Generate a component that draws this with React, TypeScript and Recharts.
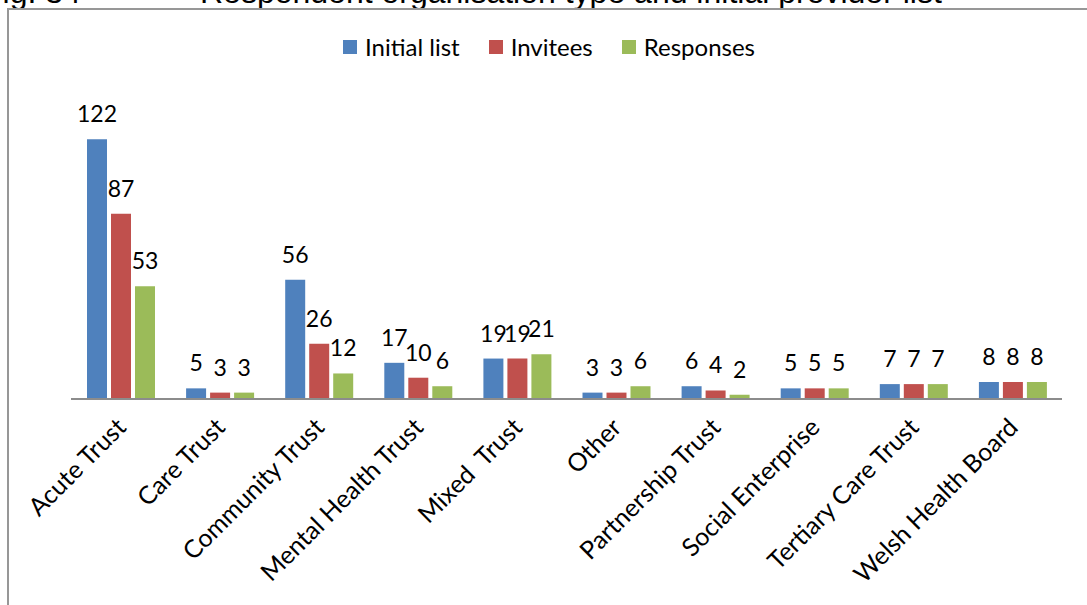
import React from 'react';
import { BarChart, Bar, XAxis, YAxis, LabelList } from 'recharts';

const categories = [
  'Acute Trust',
  'Care Trust',
  'Community Trust',
  'Mental Health Trust',
  'Mixed  Trust',
  'Other',
  'Partnership Trust',
  'Social Enterprise',
  'Tertiary Care Trust',
  'Welsh Health Board',
];
const initialList = [122, 5, 56, 17, 19, 3, 6, 5, 7, 8];
const invitees = [87, 3, 26, 10, 19, 3, 4, 5, 7, 8];
const responses = [53, 3, 12, 6, 21, 6, 2, 5, 7, 8];

const seriesKeys = ['initial', 'invitees', 'responses'];
const seriesNames = ['Initial list', 'Invitees', 'Responses'];
const seriesColors = ['#4F81BD', '#C0504D', '#9BBB59'];

const yDomainMax = 140;
const figureNumber = 'Fig. 34';
const figureTitle = 'Respondent organisation type and initial provider list';

const data = categories.map((name, i) => ({
  name,
  initial: initialList[i],
  invitees: invitees[i],
  responses: responses[i],
}));

const FONT = 'Lato, "Open Sans", sans-serif';

// Category names run diagonally, right-aligned just below the axis.
const CategoryTick = (props: any) => {
  const { x, y, payload } = props;
  const ax = x + 7;
  const ay = y + 30;
  return (
    <text
      x={ax}
      y={ay}
      transform={`rotate(-45 ${ax} ${ay})`}
      textAnchor="end"
      fontFamily={FONT}
      fontSize={25}
      fill="#000"
      style={{ whiteSpace: 'pre' }}
    >
      {payload.value}
    </text>
  );
};

const ValueLabel = (props: any) => {
  const { x, y, width, value } = props;
  return (
    <text
      x={x + width / 2}
      y={y - 17}
      textAnchor="middle"
      fontFamily={FONT}
      fontSize={23}
      fill="#000"
    >
      {value}
    </text>
  );
};

export default function App() {
  return (
    <div
      style={{
        position: 'absolute',
        left: 0,
        top: 0,
        width: 1087,
        height: 605,
        overflow: 'hidden',
        background: '#fff',
      }}
    >
      <svg
        width={1087}
        height={20}
        style={{ position: 'absolute', left: 0, top: 0 }}
      >
        <text x={-17} y={3} fontFamily='"Liberation Sans", Arial, sans-serif' fontSize={32} fill="#000">
          {figureNumber}
        </text>
        <text x={200} y={3} fontFamily='"Liberation Sans", Arial, sans-serif' fontSize={32} fill="#000">
          {figureTitle}
        </text>
      </svg>
      <div
        style={{
          position: 'absolute',
          left: 7,
          top: 8,
          width: 1200,
          height: 800,
          border: '2px solid #979797',
          boxSizing: 'border-box',
        }}
      />
      <div
        style={{
          position: 'absolute',
          left: 343,
          top: 33,
          display: 'flex',
          alignItems: 'center',
          gap: 29,
          fontFamily: FONT,
          fontSize: 24,
          color: '#000',
          lineHeight: '28px',
        }}
      >
        {seriesNames.map((n, i) => (
          <div key={n} style={{ display: 'flex', alignItems: 'center', gap: 8 }}>
            <span
              style={{
                display: 'inline-block',
                width: 14,
                height: 14,
                background: seriesColors[i],
              }}
            />
            <span>{n}</span>
          </div>
        ))}
      </div>
      <div style={{ position: 'absolute', left: 0, top: 0 }}>
        <BarChart
          width={1087}
          height={605}
          data={data}
          margin={{ top: 101, right: 25, left: 71, bottom: 56 }}
          barSize={20}
          barGap={4}
        >
          <XAxis
            dataKey="name"
            height={150}
            interval={0}
            tickLine={false}
            tickSize={0}
            tickMargin={0}
            axisLine={{ stroke: '#8c8c8c', strokeWidth: 2 }}
            tick={<CategoryTick />}
          />
          <YAxis hide domain={[0, yDomainMax]} />
          {seriesKeys.map((k, i) => (
            <Bar
              key={k}
              dataKey={k}
              name={seriesNames[i]}
              fill={seriesColors[i]}
              isAnimationActive={false}
            >
              <LabelList dataKey={k} content={<ValueLabel />} />
            </Bar>
          ))}
        </BarChart>
      </div>
    </div>
  );
}
